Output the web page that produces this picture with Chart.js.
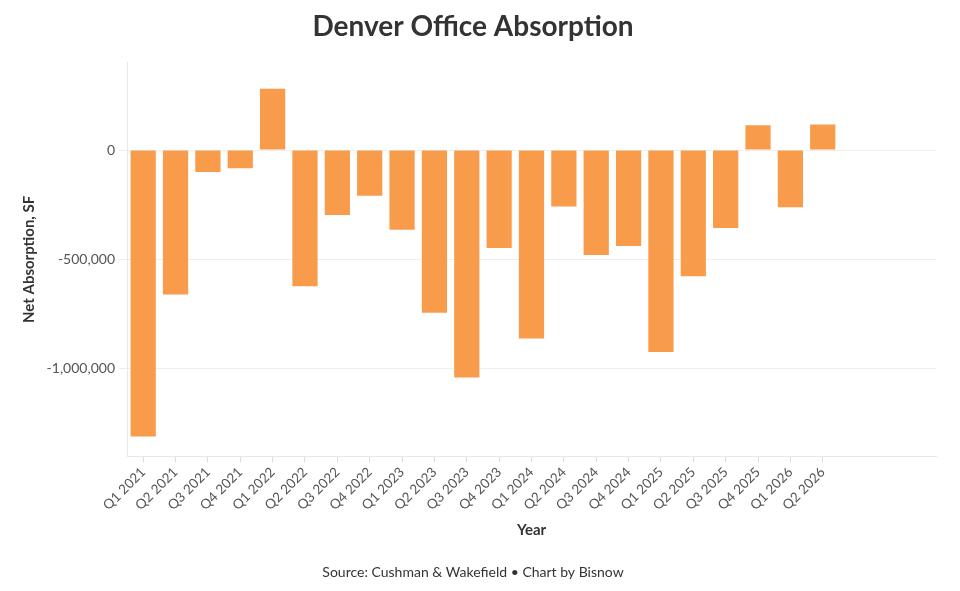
<!DOCTYPE html>
<html>
<head>
<meta charset="utf-8">
<script src="https://cdn.jsdelivr.net/npm/chart.js@4/dist/chart.umd.min.js"></script>
<style>
  html, body { margin: 0; padding: 0; background: #fff; }
  #wrap { width: 960px; height: 591px; }
</style>
</head>
<body>
<div id="wrap"><canvas id="absorption-chart"></canvas></div>
<script>
// Data
const categories = [
    'Q1 2021', 'Q2 2021', 'Q3 2021', 'Q4 2021',
    'Q1 2022', 'Q2 2022', 'Q3 2022', 'Q4 2022',
    'Q1 2023', 'Q2 2023', 'Q3 2023', 'Q4 2023',
    'Q1 2024', 'Q2 2024', 'Q3 2024', 'Q4 2024',
    'Q1 2025', 'Q2 2025', 'Q3 2025', 'Q4 2025',
    'Q1 2026', 'Q2 2026',
];
const netAbsorption = [
    -1310000, -660000, -100000, -83000,
    280000, -623000, -297000, -209000,
    -364000, -744000, -1040000, -448000,
    -862000, -258000, -480000, -439000,
    -924000, -577000, -356000, 114000,
    -262000, 117000,
];
const yTicks = [0, -500000, -1000000];

// the axis in the reference runs on past the last quarter, so leave 3 empty slots
const emptySlots = 3;
const labels = categories.concat(Array(emptySlots).fill(''));

const font = 'Lato, "Noto Sans", sans-serif';
const ctx = document.getElementById('absorption-chart').getContext('2d');

const absorptionChart = new Chart(ctx, {
    type: 'bar',
    data: {
        labels: labels,
        datasets: [{
            label: 'Net Absorption, SF',
            data: netAbsorption,
            backgroundColor: '#f89c4b',
            barPercentage: 0.78,
            categoryPercentage: 1,
        }],
    },
    options: {
        responsive: true,
        maintainAspectRatio: false,
        animation: false,
        layout: { padding: { left: 10, right: 24, top: 0, bottom: 0 } },
        plugins: {
            legend: { display: false },
            tooltip: { enabled: false },
            title: {
                display: true,
                text: 'Denver Office Absorption',
                color: '#333',
                font: { family: font, size: 28, weight: 'bold' },
                padding: { top: 10, bottom: 19 },
            },
            subtitle: {
                display: true,
                position: 'bottom',
                text: 'Source: Cushman & Wakefield \u2022 Chart by Bisnow',
                color: '#333',
                font: { family: font, size: 14 },
                padding: { top: 20, bottom: 10 },
            },
        },
        scales: {
            x: {
                grid: {
                    offset: false,
                    drawOnChartArea: false,
                    tickLength: 6,
                    color: c => c.index < categories.length ? '#ddd' : 'rgba(0,0,0,0)',
                },
                border: { color: '#e8e8e8' },
                ticks: {
                    color: '#555',
                    font: { family: font, size: 13.5 },
                    minRotation: 45,
                    maxRotation: 45,
                    autoSkip: false,
                    padding: 2,
                },
                title: {
                    display: true,
                    text: 'Year',
                    color: '#333',
                    font: { family: font, size: 15, weight: 'bold' },
                    padding: { top: 4, bottom: 5 },
                },
                afterFit: scale => { scale.height = 88; },
            },
            y: {
                min: -1400000,
                max: 400000,
                afterBuildTicks: scale => {
                    scale.ticks = yTicks.map(v => ({ value: v }));
                },
                grid: { color: '#eeeeee', tickLength: 8 },
                border: { color: '#e8e8e8' },
                ticks: {
                    color: '#555',
                    font: { family: font, size: 14 },
                    padding: 4,
                    callback: v => v.toLocaleString('en-US'),
                },
                title: {
                    display: true,
                    text: 'Net Absorption, SF',
                    color: '#333',
                    font: { family: font, size: 15, weight: 'bold' },
                    padding: { top: 10, bottom: 0 },
                },
                afterFit: scale => { scale.width = 117; },
            },
        },
    },
});
</script>
</body>
</html>
